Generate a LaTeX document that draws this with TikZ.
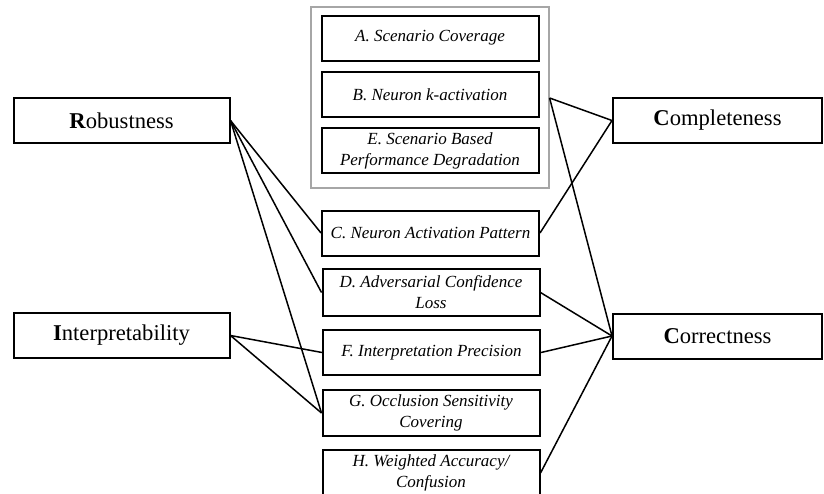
\documentclass[tikz,border=0pt]{standalone}
\usepackage{fontspec}
\setmainfont{Liberation Serif}
\usepackage{tikz}
\usetikzlibrary{positioning}

\begin{document}
\begin{tikzpicture}[x=0.5pt,y=-0.5pt,
    crit/.style={draw,line width=1pt,minimum width=108pt,minimum height=22.5pt,
                 inner sep=0pt,font=\fontsize{11.3}{13}\selectfont},
    metric/.style={draw,line width=1pt,minimum width=108.5pt,minimum height=22.5pt,
                   inner sep=0pt,align=center,font=\fontsize{8.5}{10.5}\selectfont\itshape},
    grpbox/.style={draw,gray!70,line width=0.6pt,minimum width=119pt,minimum height=90.5pt,
                   inner sep=0pt},
    link/.style={line width=0.75pt}]
  \useasboundingbox (0,0) rectangle (824,493);

  % Criteria
  \node[crit] (rob)  at (121.5,120.5) {\textbf{R}obustness};
  \node[crit] (intp) at (121.5,335.5) {\textbf{I}nterpretability};
  \node[crit,minimum width=104.5pt] (comp) at (717.5,120.5) {\textbf{C}ompleteness};
  \node[crit,minimum width=104.5pt] (corr) at (717.5,336)   {\textbf{C}orrectness};

  % Grouped metrics
  \node[grpbox] (grp) at (430,97.5) {};
  \node[metric] (mA) at (430,38)   {A. Scenario Coverage};
  \node[metric] (mB) at (430,94.5) {B. Neuron k-activation};
  \node[metric] (mE) at (430,150.5) {E. Scenario Based\\Performance Degradation};
  \coordinate (grpB) at (grp.east |- 0,98);

  % Other metrics
  \node[metric] (mC) at (430.5,233) {C. Neuron Activation Pattern};
  \node[metric,minimum height=23.5pt] (mD) at (431,292.5) {D. Adversarial Confidence\\Loss};
  \node[metric] (mF) at (431.5,352.5) {F. Interpretation Precision};
  \node[metric,minimum height=23pt] (mG) at (431,413) {G. Occlusion Sensitivity\\Covering};
  \node[metric,minimum height=23.5pt] (mH) at (431,473) {H. Weighted Accuracy/\\Confusion};

  % Links to criteria
  \draw[link] (rob.east) -- (mC.west);
  \draw[link] (rob.east) -- (mD.west);
  \draw[link] (rob.east) -- (mG.west);
  \draw[link] (intp.east) -- (mF.west);
  \draw[link] (intp.east) -- (mG.west);
  \draw[link] (grpB) -- (comp.west);
  \draw[link] (grpB) -- (corr.west);
  \draw[link] (mC.east) -- (comp.west);
  \draw[link] (mD.east) -- (corr.west);
  \draw[link] (mF.east) -- (corr.west);
  \draw[link] (mH.east) -- (corr.west);
\end{tikzpicture}
\end{document}
